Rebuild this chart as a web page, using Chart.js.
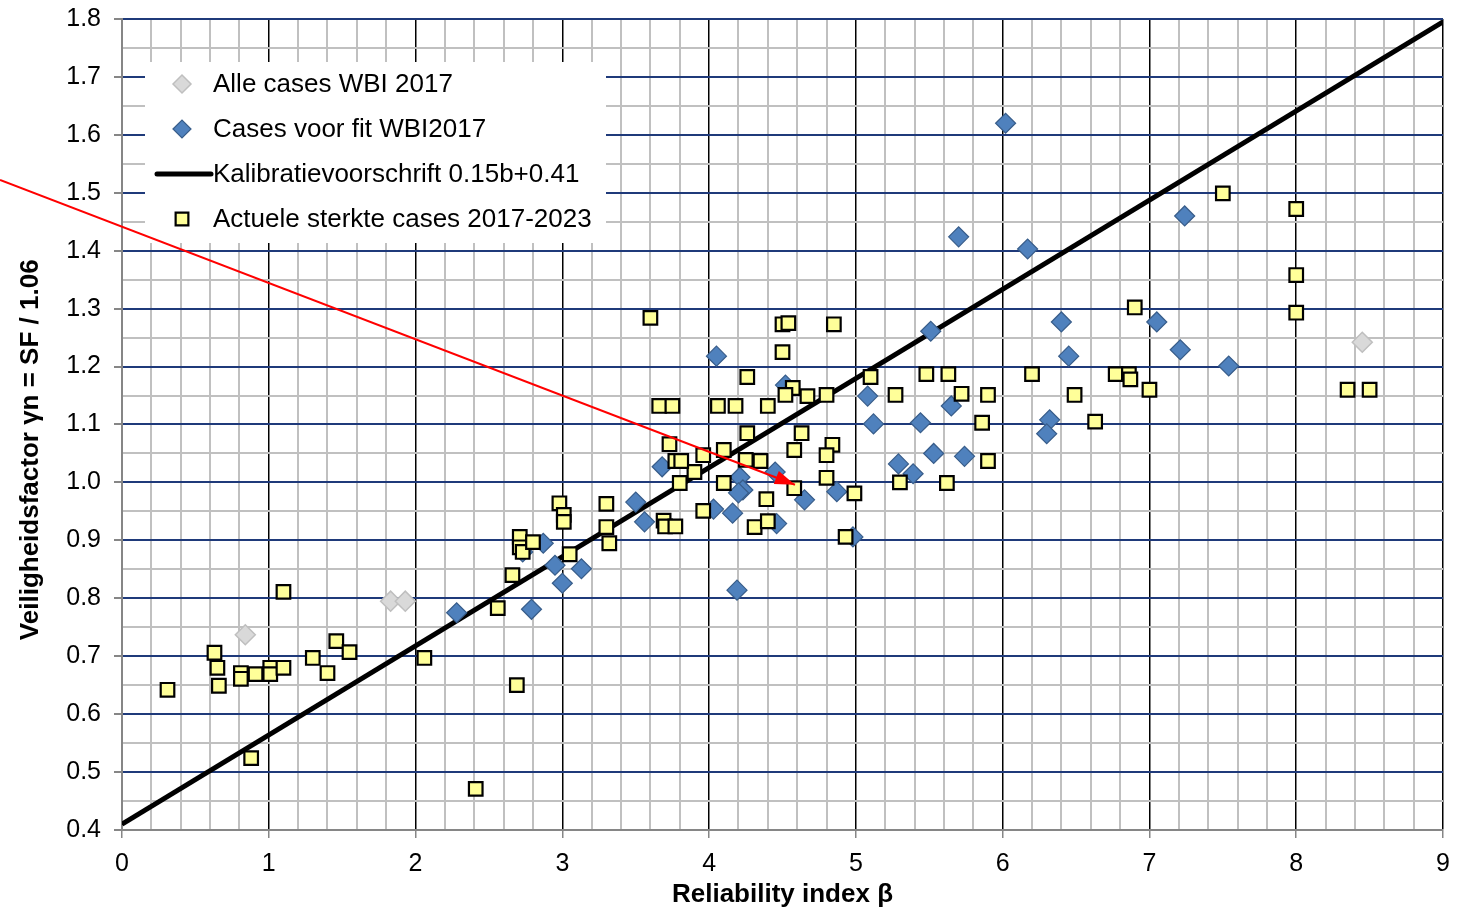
<!DOCTYPE html>
<html><head><meta charset="utf-8">
<script src="https://cdn.jsdelivr.net/npm/chart.js@4/dist/chart.umd.min.js"></script>
<style>html,body{margin:0;padding:0;background:#fff}canvas{display:block}</style>
</head><body>
<canvas id="c" style="width:1466px;height:910px"></canvas>
<script>
// ---- data ----
const seriesNames = ["Alle cases WBI 2017", "Cases voor fit WBI2017", "Kalibratievoorschrift 0.15b+0.41", "Actuele sterkte cases 2017-2023"];

const allCases = [[0.84,0.737],[1.83,0.795],[1.93,0.795],[8.45,1.242]];

const fitCases = [
 [6.02,1.620],[5.70,1.424],[6.17,1.403],[7.24,1.460],[5.51,1.261],[6.40,1.277],[7.05,1.277],
 [6.45,1.218],[7.21,1.229],[7.54,1.201],[4.05,1.218],[4.52,1.168],[5.08,1.149],[5.65,1.132],
 [5.12,1.101],[5.44,1.103],[6.32,1.108],[6.30,1.084],[5.53,1.050],[5.74,1.045],[3.68,1.027],
 [5.29,1.032],[5.39,1.015],[4.45,1.018],[4.21,1.009],[4.23,0.987],[4.20,0.982],[4.65,0.970],
 [4.87,0.984],[4.98,0.906],[4.03,0.954],[4.16,0.947],[4.46,0.929],[3.50,0.966],[3.56,0.932],
 [4.19,0.814],[3.13,0.851],[3.00,0.826],[2.95,0.857],[2.87,0.895],[2.79,0.781],[2.28,0.775],
 [2.73,0.880]
];

const calibX = [0, 9];
const calibY = [0.41, 1.795];

const actualCases = [
 [0.31,0.642],[0.63,0.706],[0.65,0.680],[0.66,0.649],[0.81,0.671],[0.81,0.661],[0.91,0.669],
 [1.01,0.680],[1.01,0.669],[1.10,0.680],[1.10,0.811],[1.30,0.697],[1.46,0.726],[1.55,0.707],
 [1.40,0.671],[0.88,0.524],[2.06,0.697],[2.41,0.471],[2.56,0.783],[2.66,0.840],[2.69,0.650],
 [2.98,0.964],[3.01,0.944],[3.01,0.932],[2.71,0.906],[2.71,0.888],[2.73,0.880],[2.80,0.897],
 [3.05,0.876],[3.30,0.963],[3.30,0.923],[3.32,0.895],[3.69,0.934],[3.70,0.924],[3.77,0.924],
 [3.80,0.999],[3.90,1.018],[3.77,1.037],[3.81,1.037],[3.73,1.066],
 [3.60,1.284],[3.66,1.132],[3.75,1.132],[4.06,1.132],[4.18,1.132],[4.40,1.132],[4.26,1.182],
 [4.50,1.225],[4.50,1.273],[4.54,1.275],[4.85,1.273],[4.57,1.163],[4.52,1.151],[4.67,1.149],
 [4.80,1.151],[5.10,1.182],[5.27,1.151],[4.26,1.085],[4.63,1.085],[3.96,1.047],[4.10,1.056],
 [4.25,1.039],[4.35,1.037],[4.58,1.056],[4.84,1.065],[4.80,1.047],[4.10,0.999],[4.80,1.008],
 [4.99,0.981],[4.58,0.990],[4.39,0.971],[5.30,1.000],[3.96,0.951],[4.31,0.923],[4.40,0.933],
 [4.93,0.906],
 [7.50,1.499],[5.48,1.187],[5.63,1.187],[5.72,1.153],[5.90,1.151],[5.86,1.103],[5.90,1.037],
 [5.62,0.999],[6.20,1.187],[6.90,1.302],[6.77,1.187],[6.86,1.187],[6.87,1.178],[6.49,1.151],
 [7.00,1.160],[6.63,1.105],[8.00,1.472],[8.00,1.358],[8.00,1.293],[8.35,1.160],[8.50,1.160]
];

// red annotation arrow (start outside the plot, tip at a point)
const arrowX = [-0.831, 4.585];
const arrowY = [1.522, 0.996];

const xMin = 0, xMax = 9, xStep = 0.2;
const yMin = 0.4, yMax = 1.8, yStep = 0.05;
const xTitle = "Reliability index β";
const yTitle = "Veiligheidsfactor γn = SF / 1.06";

// ---- styles ----
const FONT = "'Liberation Sans', Arial, sans-serif";
const toPts = arr => arr.map(p => ({x: p[0], y: p[1]}));
const pairs = (xs, ys) => xs.map((x, i) => ({x, y: ys[i]}));

const isMajorX = v => Math.abs(v - Math.round(v)) < 1e-6;
const isMajorY = v => Math.round(v * 100) % 10 === 0;

const datasets = [
  { label: "arrow", data: pairs(arrowX, arrowY), showLine: true, borderColor: '#ff0000', borderWidth: 2,
    pointRadius: 0, clip: false, fill: false, order: 0 },
  { label: seriesNames[3], data: toPts(actualCases), pointStyle: 'rect', pointRadius: 9.6,
    backgroundColor: '#ffff99', borderColor: '#000000', pointBorderWidth: 2.2, showLine: false, order: 1 },
  { label: seriesNames[1], data: toPts(fitCases), pointStyle: 'rectRot', pointRadius: 10,
    backgroundColor: '#4f81bd', borderColor: '#385d8a', pointBorderWidth: 1.2, showLine: false, order: 2 },
  { label: seriesNames[0], data: toPts(allCases), pointStyle: 'rectRot', pointRadius: 10,
    backgroundColor: '#d9d9d9', borderColor: '#bfbfbf', pointBorderWidth: 1.5, showLine: false, order: 3 },
  { label: seriesNames[2], data: pairs(calibX, calibY), showLine: true, borderColor: '#000000', borderWidth: 5,
    pointRadius: 0, fill: false, order: 4 }
];

const legendPlugin = {
  id: 'boxLegend',
  beforeDatasetsDraw(chart) {
    const ctx = chart.ctx, a = chart.chartArea;
    const bx = a.left + 23, by = a.top + 43, bw = 461, bh = 181;
    ctx.save();
    ctx.fillStyle = '#ffffff';
    ctx.fillRect(bx, by, bw, bh);
    const rows = [
      {ds: chart.data.datasets[3], kind: 'pt'},
      {ds: chart.data.datasets[2], kind: 'pt'},
      {ds: chart.data.datasets[4], kind: 'line'},
      {ds: chart.data.datasets[1], kind: 'pt'}
    ];
    ctx.font = "26px " + FONT;
    ctx.textBaseline = 'middle';
    ctx.textAlign = 'left';
    rows.forEach((r, i) => {
      const cy = by + 22 + i * 45;
      const mx = bx + 37;
      if (r.kind === 'pt') {
        ctx.fillStyle = r.ds.backgroundColor;
        ctx.strokeStyle = r.ds.borderColor;
        ctx.lineWidth = r.ds.pointBorderWidth;
        Chart.helpers.drawPoint(ctx, {pointStyle: r.ds.pointStyle, rotation: 0,
          radius: 9, borderWidth: r.ds.pointBorderWidth}, mx, cy);
      } else {
        ctx.strokeStyle = r.ds.borderColor;
        ctx.lineWidth = r.ds.borderWidth;
        ctx.lineCap = 'round';
        ctx.beginPath(); ctx.moveTo(bx + 12, cy); ctx.lineTo(bx + 66, cy); ctx.stroke();
      }
      ctx.fillStyle = '#000';
      ctx.fillText(r.ds.label, bx + 68, cy + 1);
    });
    ctx.restore();
  }
};

const arrowHeadPlugin = {
  id: 'arrowHead',
  afterDatasetsDraw(chart) {
    const meta = chart.getDatasetMeta(0);
    const p0 = meta.data[0], p1 = meta.data[1];
    if (!p0 || !p1) return;
    const ang = Math.atan2(p1.y - p0.y, p1.x - p0.x);
    const L = 20, W = 7;
    const ctx = chart.ctx;
    ctx.save();
    ctx.fillStyle = '#ff0000';
    ctx.beginPath();
    ctx.moveTo(p1.x, p1.y);
    ctx.lineTo(p1.x - L * Math.cos(ang) + W * Math.sin(ang), p1.y - L * Math.sin(ang) - W * Math.cos(ang));
    ctx.lineTo(p1.x - L * Math.cos(ang) - W * Math.sin(ang), p1.y - L * Math.sin(ang) + W * Math.cos(ang));
    ctx.closePath();
    ctx.fill();
    ctx.restore();
  }
};

new Chart(document.getElementById('c'), {
  type: 'scatter',
  data: { datasets },
  options: {
    responsive: false,
    devicePixelRatio: 1,
    animation: false,
    layout: { padding: { top: 19, right: 23, left: 0, bottom: 0 } },
    plugins: { legend: { display: false }, tooltip: { enabled: false } },
    scales: {
      x: {
        type: 'linear', min: xMin, max: xMax,
        afterFit(s) { s.height = 80; s.paddingLeft = 0; s.paddingRight = 0; },
        ticks: {
          stepSize: xStep, autoSkip: false, maxRotation: 0, padding: 11, color: '#000',
          font: { family: FONT, size: 25 },
          callback: v => isMajorX(v) ? String(Math.round(v)) : ''
        },
        grid: {
          color: c => { const v = c.tick.value; if (Math.abs(v) < 1e-6) return '#868686'; return isMajorX(v) ? '#000000' : '#c0c0c0'; },
          lineWidth: c => isMajorX(c.tick.value) ? 1.5 : 2,
          tickColor: c => isMajorX(c.tick.value) ? '#868686' : 'rgba(0,0,0,0)',
          tickLength: 8, drawTicks: true
        },
        border: { color: '#868686', width: 2 },
        title: { display: true, text: xTitle, color: '#000', font: { family: FONT, size: 26, weight: 'bold' }, padding: { top: 0, bottom: 0 } }
      },
      y: {
        type: 'linear', min: yMin, max: yMax,
        afterFit(s) { s.width = 122; s.paddingTop = 0; s.paddingBottom = 0; },
        ticks: {
          stepSize: yStep, autoSkip: false, padding: 13, color: '#000',
          font: { family: FONT, size: 25 },
          callback: v => isMajorY(v) ? (Math.round(v * 100) / 100).toFixed(1) : ''
        },
        grid: {
          color: c => { const v = c.tick.value; if (Math.abs(v - yMin) < 1e-6) return '#868686'; return isMajorY(v) ? '#1f3a7a' : '#c0c0c0'; },
          lineWidth: 2,
          tickColor: c => isMajorY(c.tick.value) ? '#868686' : 'rgba(0,0,0,0)',
          tickLength: 8, drawTicks: true
        },
        border: { color: '#868686', width: 2 },
        title: { display: true, text: yTitle + '\u00A0'.repeat(7), color: '#000', font: { family: FONT, size: 26, weight: 'bold' }, padding: { top: 15, bottom: 0 } }
      }
    }
  },
  plugins: [legendPlugin, arrowHeadPlugin]
});
</script>
</body></html>
